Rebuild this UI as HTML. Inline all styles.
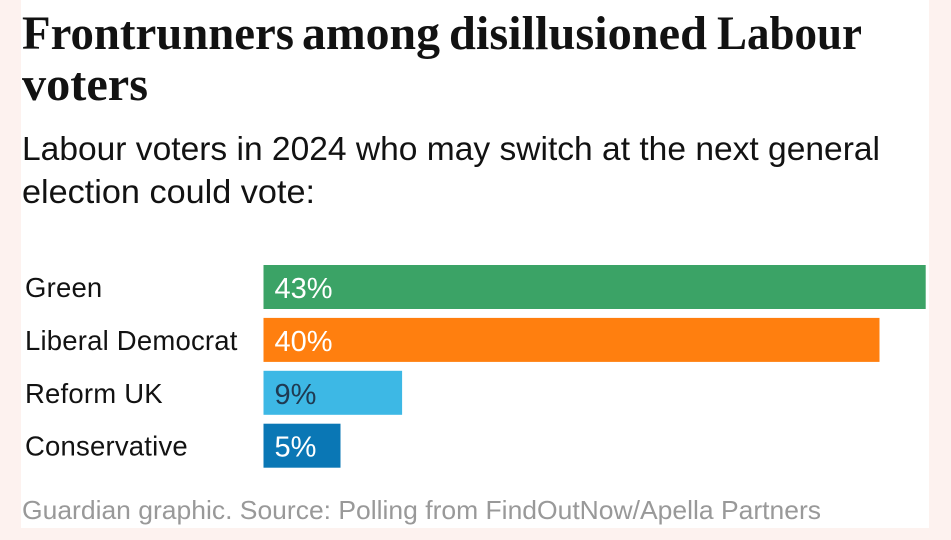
<!DOCTYPE html>
<html lang="en">
<head>
<meta charset="utf-8">
<title>Frontrunners among disillusioned Labour voters</title>
<style>
html,body{margin:0;padding:0;background:#fdf2ef;}
svg{display:block;}
text{font-family:"Liberation Sans",sans-serif;}
.serif text{font-family:"Liberation Serif",serif;}
</style>
</head>
<body>
<svg id="chart" width="951" height="540" viewBox="0 0 951 540" xmlns="http://www.w3.org/2000/svg">
  <rect x="0" y="0" width="951" height="540" fill="#fdf2ef"/>
  <rect x="21" y="0" width="908" height="528" fill="#ffffff"/>
  <g class="serif" font-weight="700" font-size="48" fill="#121212">
    <text x="22" y="49" textLength="272" lengthAdjust="spacingAndGlyphs">Frontrunners</text>
    <text x="302" y="49" textLength="138" lengthAdjust="spacingAndGlyphs">among</text>
    <text x="449" y="49" textLength="258" lengthAdjust="spacingAndGlyphs">disillusioned</text>
    <text x="717" y="49" textLength="145" lengthAdjust="spacingAndGlyphs">Labour</text>
    <text x="22" y="100" textLength="126" lengthAdjust="spacingAndGlyphs">voters</text>
  </g>
  <g font-size="33" fill="#121212">
    <text x="22" y="160" textLength="858" lengthAdjust="spacingAndGlyphs">Labour voters in 2024 who may switch at the next general</text>
    <text x="22" y="203" textLength="293" lengthAdjust="spacingAndGlyphs">election could vote:</text>
  </g>
  <g id="rows"></g>
  <text x="22" y="519" font-size="26" fill="#999999" textLength="799" lengthAdjust="spacingAndGlyphs">Guardian graphic. Source: Polling from FindOutNow/Apella Partners</text>
</svg>
<script>
const categories = ['Green', 'Liberal Democrat', 'Reform UK', 'Conservative'];
const shares = [43, 40, 9, 5];
const barColors = ['#3ba366', '#ff7f0f', '#3db8e5', '#0a77b5'];
const valueColors = ['#ffffff', '#ffffff', '#1f3a52', '#ffffff'];

const xStart = 263.5;
const xUnit = 15.4;
const yStart = 265;
const rowStep = 52.9;
const barHeight = 44;
const x = v => xStart + v * xUnit;
const y = i => yStart + i * rowStep;

const NS = 'http://www.w3.org/2000/svg';
const rows = document.getElementById('rows');
categories.forEach((cat, i) => {
  const label = document.createElementNS(NS, 'text');
  
  
  label.setAttribute('x', 25);
  label.setAttribute('y', y(i) + 32);
  label.setAttribute('font-size', 27.5);
  label.setAttribute('letter-spacing', '0.2');
  label.setAttribute('fill', '#121212');
  label.textContent = cat;
  rows.appendChild(label);

  const bar = document.createElementNS(NS, 'rect');
  
  
  bar.setAttribute('x', x(0));
  bar.setAttribute('y', y(i));
  bar.setAttribute('width', x(shares[i]) - x(0));
  bar.setAttribute('height', barHeight);
  bar.setAttribute('fill', barColors[i]);
  rows.appendChild(bar);

  const val = document.createElementNS(NS, 'text');
  
  
  val.setAttribute('x', x(0) + 11);
  val.setAttribute('y', y(i) + 33);
  val.setAttribute('font-size', 29);
  val.setAttribute('fill', valueColors[i]);
  val.textContent = shares[i] + '%';
  rows.appendChild(val);
});
</script>
</body>
</html>
